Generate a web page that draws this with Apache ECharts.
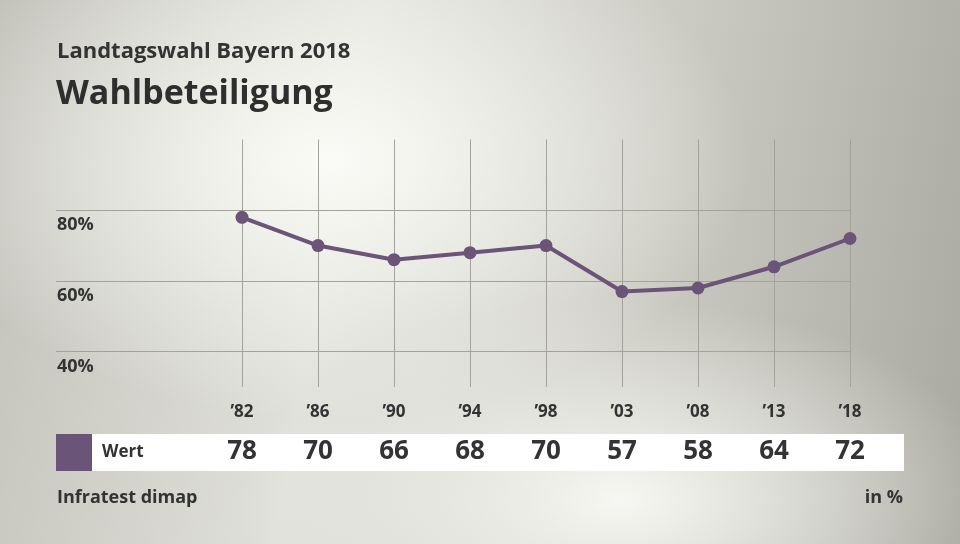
<!DOCTYPE html>
<html>
<head>
<meta charset="utf-8">
<script src="https://cdn.jsdelivr.net/npm/echarts@6/dist/echarts.min.js"></script>
<style>
  html, body { margin: 0; padding: 0; }
  #main {
    width: 960px; height: 544px;
    background:
      radial-gradient(ellipse 420px 260px at 330px 160px, rgba(250,250,246,1) 0%, rgba(250,250,246,0) 100%),
      radial-gradient(ellipse 380px 200px at 620px 500px, rgba(246,246,242,1) 0%, rgba(246,246,242,0) 100%),
      linear-gradient(100deg, #c2c2ba 0%, #e0e0da 35%, #cbcbc3 65%, #a9a9a1 100%);
  }
</style>
</head>
<body>
<div id="main"></div>
<script>
  const years = ['’82', '’86', '’90', '’94', '’98', '’03', '’08', '’13', '’18'];
  const wert = [78, 70, 66, 68, 70, 57, 58, 64, 72];
  const yTicks = [40, 60, 80];

  const mychart = echarts.init(document.getElementById('main'));
  const font = '"Open Sans", "Noto Sans", sans-serif';
  const purple = '#6a5478';

  let option = {
    textStyle: { fontFamily: font },
    title: [
      {
        text: 'Landtagswahl Bayern 2018',
        left: 57, top: 41, padding: 0,
        textStyle: { fontSize: 22, fontWeight: 'bold', color: '#333', fontFamily: font }
      },
      {
        text: 'Wahlbeteiligung',
        left: 56, top: 77, padding: 0,
        textStyle: { fontSize: 34, fontWeight: 'bold', color: '#2e2e2e', fontFamily: font }
      },
      {
        text: 'Infratest dimap',
        left: 57, top: 489, padding: 0,
        textStyle: { fontSize: 18, fontWeight: 'bold', color: '#333', fontFamily: font }
      },
      {
        text: 'in %',
        right: 57, top: 489, padding: 0,
        textStyle: { fontSize: 18, fontWeight: 'bold', color: '#333', fontFamily: font }
      }
    ],
    graphic: [
      { type: 'rect', shape: { x: 56, y: 434, width: 36, height: 37 }, style: { fill: purple } },
      { type: 'rect', shape: { x: 92, y: 434, width: 812, height: 37 }, style: { fill: '#ffffff' } },
      {
        type: 'text', left: 102, top: 444,
        style: { text: 'Wert', fontSize: 17, fontWeight: 'bold', fill: '#333', fontFamily: font }
      }
    ],
    grid: [
      { left: 56, right: 110, top: 139.5, bottom: 157 },
      { left: 242, right: 110, top: 139.5, bottom: 157 }
    ],
    xAxis: [
      {
        gridIndex: 0, type: 'value', min: 0, max: 1, show: false
      },
      {
        gridIndex: 1, type: 'category', data: years, boundaryGap: false,
        axisLine: { show: false }, axisTick: { show: false },
        splitLine: { show: true, lineStyle: { color: '#a3a39c', width: 1 } },
        axisLabel: { color: '#333', fontSize: 17, fontWeight: 'bold', margin: 17, fontFamily: font }
      },
      {
        gridIndex: 1, type: 'category', data: wert.map(String), boundaryGap: false,
        position: 'bottom', offset: 65,
        axisLine: { show: false }, axisTick: { show: false }, splitLine: { show: false },
        axisLabel: { color: '#333', fontSize: 26, fontWeight: 'bold', margin: 0, verticalAlign: 'middle', fontFamily: font }
      }
    ],
    yAxis: [
      {
        gridIndex: 0, type: 'value', min: 30, max: 100, interval: 10, show: false
      },
      {
        gridIndex: 1, type: 'value', min: 30, max: 100, show: false
      }
    ],
    series: [
      {
        // horizontal gridlines with labels below them
        type: 'line', xAxisIndex: 0, yAxisIndex: 0, data: [], silent: true,
        markLine: {
          silent: true, symbol: 'none',
          lineStyle: { color: '#a3a39c', width: 1, type: 'solid' },
          label: {
            position: 'insideStartBottom', distance: [1, 6],
            formatter: (p) => p.value + '%',
            color: '#333', fontSize: 18, fontWeight: 'bold', fontFamily: font
          },
          data: yTicks.map(v => ({ yAxis: v }))
        }
      },
      {
        name: 'Wert', type: 'line', xAxisIndex: 1, yAxisIndex: 1,
        data: wert,
        symbol: 'circle', symbolSize: 13,
        itemStyle: { color: purple },
        lineStyle: { color: purple, width: 4 },
        z: 5
      }
    ]
  };
  mychart.setOption(option);
  window.addEventListener('resize', () => {
    mychart.resize();
  })
</script>
</body>
</html>
